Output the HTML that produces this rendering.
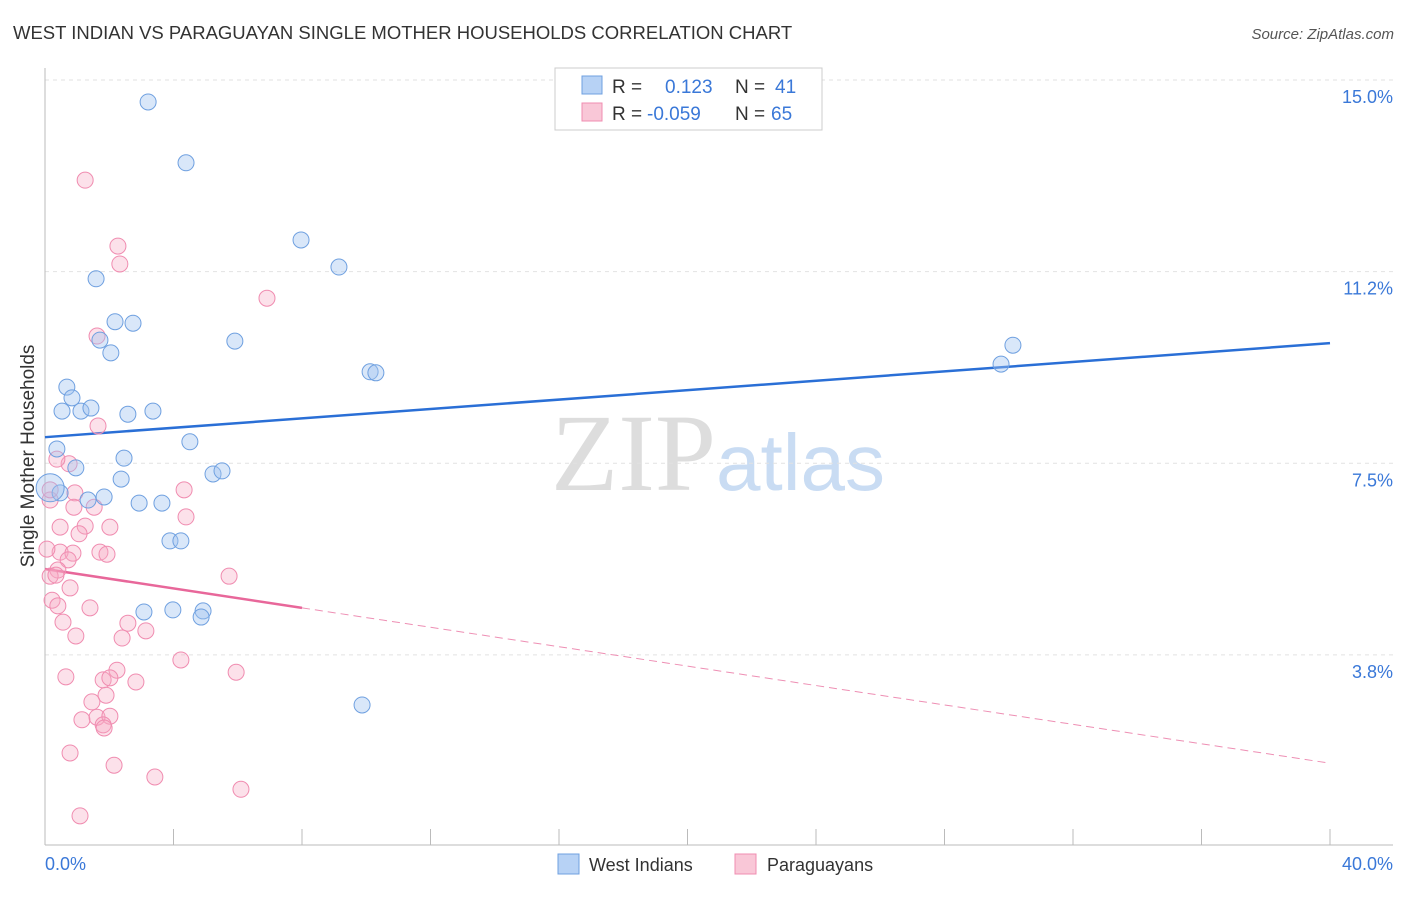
<!DOCTYPE html>
<html><head><meta charset="utf-8"><style>
body{margin:0;background:#fff;font-family:"Liberation Sans",sans-serif;}
</style></head><body>
<svg id="chart" width="1406" height="892" xmlns="http://www.w3.org/2000/svg">
<text x="13" y="39" font-size="18.5" fill="#333">WEST INDIAN VS PARAGUAYAN SINGLE MOTHER HOUSEHOLDS CORRELATION CHART</text>
<text x="1394" y="39" font-size="15" fill="#555" font-style="italic" text-anchor="end">Source: ZipAtlas.com</text>
<text x="34" y="456" font-size="19" fill="#333" text-anchor="middle" transform="rotate(-90 34 456)">Single Mother Households</text>
<text x="716" y="490" font-size="110" fill="#ddd" text-anchor="end" font-family="Liberation Serif,serif">ZIP</text>
<text x="716" y="490" font-size="80" fill="#c9dcf3">atlas</text>
<g id="grid"></g><g id="axes"></g><g id="trends"></g><g id="points"></g>
<g>
<rect x="555" y="68" width="267" height="62" fill="#fff" stroke="#ccc"/>
<rect x="582" y="76" width="20" height="18" fill="#b7d2f5" stroke="#6fa0e0"/>
<rect x="582" y="103" width="20" height="18" fill="#f9c7d7" stroke="#f08cb0"/>
<text x="612" y="93" font-size="19" fill="#333">R =</text><text x="665" y="93" font-size="19" fill="#3a78d8">0.123</text>
<text x="735" y="93" font-size="19" fill="#333">N =</text><text x="775" y="93" font-size="19" fill="#3a78d8">41</text>
<text x="612" y="120" font-size="19" fill="#333">R =</text><text x="647" y="120" font-size="19" fill="#3a78d8">-0.059</text>
<text x="735" y="120" font-size="19" fill="#333">N =</text><text x="771" y="120" font-size="19" fill="#3a78d8">65</text>
</g>
<g>
<rect x="558" y="854" width="21" height="20" fill="#b7d2f5" stroke="#6fa0e0"/>
<text x="589" y="871" font-size="18" fill="#333">West Indians</text>
<rect x="735" y="854" width="21" height="20" fill="#f9c7d7" stroke="#f08cb0"/>
<text x="767" y="871" font-size="18" fill="#333">Paraguayans</text>
</g>
</svg>
<script>
const yTicks=[3.75,7.5,11.25,15];
const yTickLabels=["3.8%","7.5%","11.2%","15.0%"];
const xTicks=[0,4,8,12,16,20,24,28,32,36,40];
const blueX=[3.21,4.39,7.97,9.15,1.59,2.18,2.74,1.71,2.05,5.91,0.68,0.84,0.53,1.12,1.43,2.58,3.36,10.12,10.30,29.76,30.13,0.37,4.51,2.46,0.96,5.23,5.51,2.37,0.47,1.84,1.34,2.93,3.64,3.89,4.23,3.08,3.98,4.92,4.86,9.87,0.16];
const blueY=[14.57,13.38,11.87,11.34,11.11,10.27,10.24,9.91,9.66,9.89,8.99,8.78,8.52,8.52,8.58,8.46,8.52,9.29,9.27,9.44,9.81,7.78,7.92,7.60,7.41,7.29,7.35,7.19,6.92,6.84,6.78,6.72,6.72,5.98,5.98,4.59,4.63,4.61,4.49,2.77,7.02];
const pinkX=[1.25,2.27,2.33,6.91,1.62,1.65,0.75,0.37,0.93,0.16,0.47,0.90,1.53,1.25,2.02,4.33,4.39,1.06,0.47,0.87,1.71,1.93,0.72,0.06,0.40,0.16,0.34,0.78,5.73,0.22,0.40,1.40,0.56,2.58,3.14,0.96,2.40,4.23,2.24,0.65,1.81,2.02,2.83,5.95,1.90,1.46,1.15,1.62,2.02,1.81,1.84,0.78,2.15,3.42,6.10,1.09,0.16];
const pinkY=[13.04,11.75,11.40,10.73,9.99,8.23,7.49,7.58,6.92,6.78,6.25,6.64,6.64,6.27,6.25,6.98,6.45,6.12,5.76,5.74,5.76,5.72,5.61,5.82,5.41,5.29,5.31,5.06,5.29,4.82,4.71,4.67,4.39,4.37,4.22,4.12,4.08,3.65,3.45,3.32,3.26,3.30,3.22,3.41,2.96,2.83,2.48,2.53,2.55,2.38,2.32,1.83,1.59,1.36,1.12,0.60,6.98];
const blueTrend=[8.01,9.85];
const pinkTrend=[5.43,1.63];
const pinkSolidEnd=8;
const NS="http://www.w3.org/2000/svg";
const sx=v=>45+v*32.125, sy=v=>80+(15-v)*51.1;
function mk(tag,attrs,parent){const e=document.createElementNS(NS,tag);for(const k in attrs)e.setAttribute(k,attrs[k]);document.getElementById(parent).appendChild(e);return e;}
yTicks.forEach((t,i)=>{
 const l=mk('line',{x1:45,x2:1393,y1:sy(t),y2:sy(t),stroke:'#e2e2e2','stroke-dasharray':'4,4'},'grid');
 
 
 const tx=mk('text',{x:1393,y:sy(t)+23,'font-size':18,fill:'#3a78d8','text-anchor':'end'},'grid');
 tx.textContent=yTickLabels[i];
 
 
});
const ya=mk('line',{x1:45,x2:45,y1:68,y2:845,stroke:'#bbb'},'axes');


const xa=mk('line',{x1:45,x2:1393,y1:845,y2:845,stroke:'#bbb'},'axes');


xTicks.forEach(t=>{
 const l=mk('line',{x1:sx(t),x2:sx(t),y1:829,y2:845,stroke:'#bbb'},'axes');
 
 
});
const x0=mk('text',{x:45,y:870,'font-size':18,fill:'#3a78d8'},'axes');x0.textContent='0.0%';


const x1=mk('text',{x:1393,y:870,'font-size':18,fill:'#3a78d8','text-anchor':'end'},'axes');x1.textContent='40.0%';


const bt=mk('line',{x1:sx(0),y1:sy(blueTrend[0]),x2:sx(40),y2:sy(blueTrend[1]),stroke:'#2a6fd6','stroke-width':2.5},'trends');


const pm=pinkTrend[0]+(pinkTrend[1]-pinkTrend[0])*pinkSolidEnd/40;
const ps=mk('line',{x1:sx(0),y1:sy(pinkTrend[0]),x2:sx(pinkSolidEnd),y2:sy(pm),stroke:'#e8679a','stroke-width':2.5},'trends');


const pd=mk('line',{x1:sx(pinkSolidEnd),y1:sy(pm),x2:sx(40),y2:sy(pinkTrend[1]),stroke:'#ee8fb4','stroke-width':1,'stroke-dasharray':'8,5'},'trends');


pinkX.forEach((x,i)=>{
 const c=mk('circle',{cx:sx(x),cy:sy(pinkY[i]),r:8,fill:'rgba(246,170,196,0.35)',stroke:'#f08cb0','stroke-width':1},'points');
 
 
});
blueX.forEach((x,i)=>{
 const c=mk('circle',{cx:sx(x),cy:sy(blueY[i]),r:i===blueX.length-1?14:8,fill:'rgba(160,196,240,0.4)',stroke:'#6fa0e0','stroke-width':1},'points');
 
 
});
</script>
</body></html>
